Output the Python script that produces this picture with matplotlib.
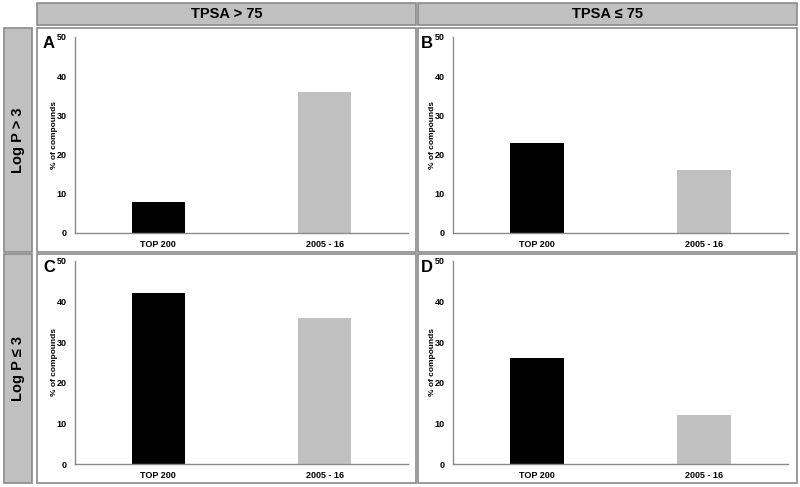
import matplotlib
matplotlib.use("Agg")
from matplotlib import pyplot as plt
from matplotlib.patches import Rectangle

plt.rcParams['font.family'] = ['Liberation Sans', 'DejaVu Sans']

# data
categories = ['TOP 200', '2005 - 16']
panel_letters = ['A', 'B', 'C', 'D']
col_titles = ['TPSA > 75', 'TPSA ≤ 75']
row_titles = ['Log P > 3', 'Log P ≤ 3']
values_A = [8, 36]
values_B = [23, 16]
values_C = [42, 36]
values_D = [26, 12]
bar_colors = ['#000000', '#c0c0c0']

W, H = 800, 487
fig = plt.figure(figsize=(W / 100, H / 100), dpi=100)


def box(x0, y0, x1, y1, fc, ec='#8a8a8a', lw=1.2):
    # pixel coords from top-left
    r = Rectangle((x0 / W, 1 - y1 / H), (x1 - x0) / W, (y1 - y0) / H,
                  transform=fig.transFigure, fc=fc, ec=ec, lw=lw, zorder=-1)
    fig.patches.append(r)


def px_axes(x0, y0, x1, y1):
    return fig.add_axes([x0 / W, 1 - y1 / H, (x1 - x0) / W, (y1 - y0) / H])


# header boxes
cols = [(37, 416), (418, 797)]
rows = [(28, 252), (254, 483)]
for (x0, x1), t in zip(cols, col_titles):
    box(x0, 3, x1, 25, '#c0c0c0')
    fig.text((x0 + x1) / 2 / W, 1 - 14 / H, t, ha='center', va='center',
             fontsize=10.5, fontweight='bold')
for (y0, y1), t in zip(rows, row_titles):
    box(4, y0, 32, y1, '#c0c0c0')
    fig.text(18 / W, 1 - (y0 + y1) / 2 / H, t, ha='center', va='center',
             rotation=90, fontsize=10.5, fontweight='bold')

# panel frames
for (y0, y1) in rows:
    for (x0, x1) in cols:
        box(x0, y0, x1, y1, 'white')

axes_px = [(75, 37, 408, 233), (453, 37, 788, 233),
           (75, 261, 408, 464), (453, 261, 788, 464)]
all_values = [values_A, values_B, values_C, values_D]

for (x0, y0, x1, y1), vals, letter in zip(axes_px, all_values, panel_letters):
    ax = px_axes(x0, y0, x1, y1)
    ax.bar(range(len(categories)), vals, width=0.32, color=bar_colors)
    ax.set_xlim(-0.5, 1.5)
    ax.set_ylim(0, 50)
    ax.set_yticks([0, 10, 20, 30, 40, 50])
    ax.set_xticks(range(len(categories)))
    ax.set_xticklabels(categories)
    for s in ['top', 'right']:
        ax.spines[s].set_visible(False)
    for s in ['left', 'bottom']:
        ax.spines[s].set_color('#8a8a8a')
        ax.spines[s].set_linewidth(1.0)
    ax.tick_params(length=0, labelsize=6.5, pad=6)
    ax.tick_params(axis='x', pad=5, labelsize=6.5)
    for lab in ax.get_xticklabels() + ax.get_yticklabels():
        lab.set_fontweight('bold')
    ax.set_ylabel('% of compounds', fontsize=6, fontweight='bold', labelpad=-1)
    ax.patch.set_alpha(0)
    fig.text((x0 - 26) / W, 1 - (y0 + 7) / H, letter, ha='center', va='center',
             fontsize=12, fontweight='bold')

fig.savefig('out.png', dpi=100)
